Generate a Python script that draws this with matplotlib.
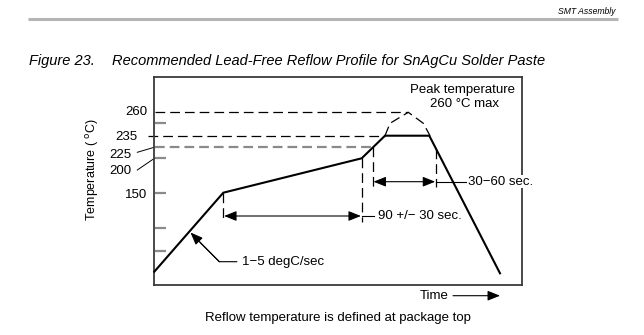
import matplotlib
matplotlib.use("Agg")
import matplotlib.pyplot as plt

plt.rcParams['font.family'] = ['Liberation Sans', 'DejaVu Sans']
plt.rcParams['lines.scale_dashes'] = False

# ---- schematic data (positions, pixel-like units) ----
# frame of the plot area: time axis (x) and temperature level axis (y, inverted)
frame_x = [154.3, 521.7]
frame_y = [285.0, 77.3]

# reflow profile (solid)
profile_t = [154.3, 223.3, 361.7, 385.0, 429.3, 500.0]
profile_T = [271.7, 192.7, 158.3, 135.7, 135.7, 273.3]

# peak excursion (dashed)
peak_t = [385.0, 390.0, 408.3, 423.3, 430.0]
peak_T = [135.7, 123.3, 112.3, 123.3, 135.7]

# temperature labels and their levels
temp_labels = ['260', '235', '225', '200', '150']
temp_levels = [112.3, 135.7, 147.3, 158.3, 192.7]
label_x = [147.0, 137.3, 131.0, 131.0, 147.0]
label_y = [112.3, 137.5, 154.5, 171.0, 194.5]

# unlabeled ticks
tick_levels = [123.3, 158.3, 192.7, 227.7, 250.7]

# time markers
t_soak_start, t_soak_end = 223.3, 361.7
t_liq_up, t_liq_down = 372.7, 436.0

fig = plt.figure(figsize=(6.44, 3.35), dpi=100)
ax = fig.add_axes([frame_x[0] / 644, (335 - frame_y[0]) / 335,
                   (frame_x[1] - frame_x[0]) / 644, (frame_y[0] - frame_y[1]) / 335])
ax.set_xlim(frame_x)
ax.set_ylim(frame_y)
ax.set_xticks([])
ax.set_yticks([])
for s in ax.spines.values():
    s.set_color('#3a3a3a')
    s.set_linewidth(1.3)

dash_k = dict(color='black', lw=0.9, dashes=(7.0, 3.6), clip_on=False)

# header
ax.text(616, 11, 'SMT Assembly', ha='right', va='center', fontsize=6.2,
        style='italic', clip_on=False)
ax.plot([28, 618], [19.3, 19.3], color='#b5b5b5', lw=2.2, clip_on=False,
        solid_capstyle='butt')
ax.text(29, 61.5, 'Figure 23.', ha='left', va='center', fontsize=10.5,
        style='italic', clip_on=False)
ax.text(112, 61.5, 'Recommended Lead-Free Reflow Profile for SnAgCu Solder Paste',
        ha='left', va='center', fontsize=10.5, style='italic', clip_on=False)

# ticks
for lv in tick_levels:
    ax.plot([155, 166.3], [lv, lv], color='#8a8a8a', lw=1.6, clip_on=False,
            solid_capstyle='butt')

# horizontal reference lines
ax.plot([155, 408.3], [temp_levels[0]] * 2, **dash_k)
ax.plot([148, 385.0], [temp_levels[1]] * 2, **dash_k)
ax.plot([155, 372.7], [temp_levels[2]] * 2, color='#8a8a8a', lw=1.6,
        dashes=(7.0, 3.6), clip_on=False)

# temperature labels and leaders
for lab, x, y in zip(temp_labels, label_x, label_y):
    ax.text(x, y, lab, ha='right', va='center', fontsize=9.5, clip_on=False)
ax.plot([137.3, 153.5], [152.3, 147.5], color='black', lw=0.7, clip_on=False)
ax.plot([137.3, 154.5], [170.0, 158.3], color='black', lw=0.7, clip_on=False)

ax.text(93, 170, 'Temperature ( $^{\\mathrm{o}}$C)', rotation=90, ha='center',
        va='center', fontsize=9, clip_on=False)

# profile
ax.plot(profile_t, profile_T, color='black', lw=1.5, solid_joinstyle='miter',
        clip_on=False, zorder=4)
ax.plot(peak_t, peak_T, **dash_k)

# vertical markers
ax.plot([t_soak_start] * 2, [192.7, 221.0], **dash_k)
ax.plot([t_soak_end] * 2, [158.3, 221.7], **dash_k)
ax.plot([t_liq_up] * 2, [147.3, 186.7], **dash_k)
ax.plot([t_liq_down] * 2, [148.7, 186.7], **dash_k)

arr2 = dict(arrowstyle='<|-|>,head_length=0.75,head_width=0.3', color='black',
            lw=0.8, shrinkA=0, shrinkB=0)
ax.annotate('', xy=(t_soak_start + 0.8, 216), xytext=(t_soak_end - 0.8, 216),
            arrowprops=arr2, annotation_clip=False)
ax.plot([t_soak_end, 373.5], [216, 216], color='black', lw=0.8, clip_on=False)
ax.text(377.5, 216, '90 +/\u2212 30 sec.', ha='left', va='center', fontsize=9.5,
        clip_on=False)

ax.annotate('', xy=(t_liq_up + 0.8, 181.7), xytext=(t_liq_down - 0.8, 181.7),
            arrowprops=arr2, annotation_clip=False)
ax.plot([t_liq_down, 466], [181.7, 181.7], color='black', lw=0.8, clip_on=False)
ax.text(468, 181.7, '30\u221260 sec.', ha='left', va='center', fontsize=9.5,
        clip_on=False, zorder=5,
        bbox=dict(facecolor='white', edgecolor='none', pad=0.5))

# ramp annotation
ax.plot([236.7, 219.3, 200], [261.7, 261.7, 242.5], color='black', lw=0.8,
        clip_on=False)
ax.annotate('', xy=(190.5, 232.5), xytext=(219.3, 261.7),
            arrowprops=dict(arrowstyle='-|>,head_length=0.75,head_width=0.3',
                            color='black', lw=0.8, shrinkA=0, shrinkB=0),
            annotation_clip=False)
ax.text(241.7, 261.7, '1\u22125 degC/sec', ha='left', va='center', fontsize=9.5,
        clip_on=False)

# peak text
ax.text(463, 90, 'Peak temperature', ha='center', va='center', fontsize=9.5,
        clip_on=False)
ax.text(464, 104.3, '260 \u00b0C max', ha='center', va='center', fontsize=9.5,
        clip_on=False)

# time axis arrow
ax.text(420, 295.7, 'Time', ha='left', va='center', fontsize=9.5, clip_on=False)
ax.annotate('', xy=(500, 295.7), xytext=(453, 295.7),
            arrowprops=dict(arrowstyle='-|>,head_length=0.75,head_width=0.3',
                            color='black', lw=0.8, shrinkA=0, shrinkB=0),
            annotation_clip=False)

ax.text(338, 318, 'Reflow temperature is defined at package top', ha='center',
        va='center', fontsize=9.5, clip_on=False)

fig.savefig('out.png', dpi=100)
